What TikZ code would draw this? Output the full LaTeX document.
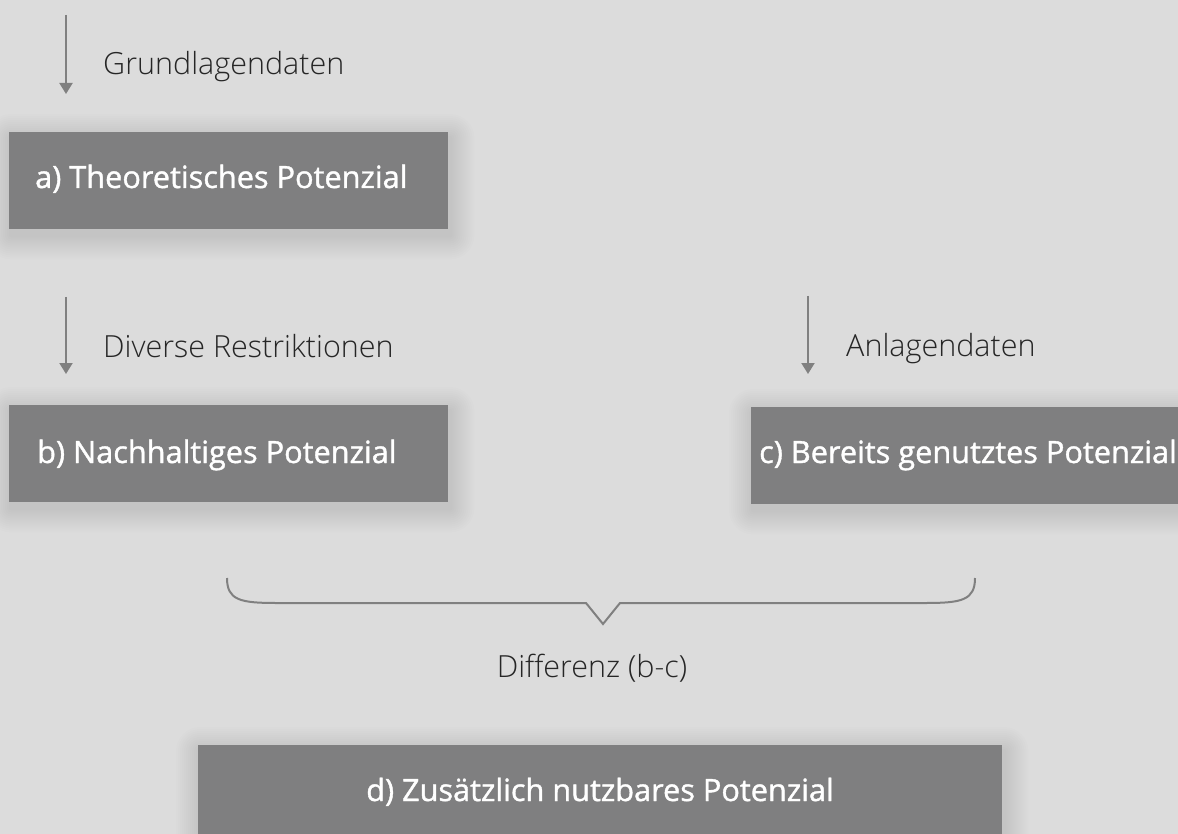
\documentclass[tikz,border=0pt]{standalone}
\usepackage{fontspec}
\setmainfont{Open Sans}
\newfontfamily\duenn{Open Sans Light}
\newfontfamily\halbfett{Open Sans}[FakeBold=1.2]
\usetikzlibrary{arrows.meta,backgrounds}
\definecolor{hintergrund}{HTML}{DCDCDC}
\definecolor{kastengrau}{HTML}{7F7F80}
\definecolor{liniengrau}{HTML}{808080}
\definecolor{schrift}{HTML}{262626}

\begin{document}
\begin{tikzpicture}[x=1pt,y=-1pt,>={Triangle[width=13pt,length=11pt]},
  kasten/.style={fill=kastengrau,minimum width=439pt,minimum height=97pt,inner sep=0pt,anchor=north west},
  ktext/.style={text=white,font=\halbfett\fontsize{30.7}{36}\selectfont,inner sep=0pt},
  pfeil/.style={->,draw=liniengrau,line width=2pt},
  beschr/.style={text=schrift,font=\duenn\fontsize{30.5}{37}\selectfont,inner sep=0pt}]
\useasboundingbox (0,0) rectangle (1178,834);

% Pfeile mit Beschriftung
\coordinate (p1) at (66,15);  \coordinate (q1) at (66,94);
\coordinate (p2) at (66,297); \coordinate (q2) at (66,374);
\coordinate (p3) at (808,296);\coordinate (q3) at (808,374);
\draw[pfeil] (p1)--(q1);
\draw[pfeil] (p2)--(q2);
\draw[pfeil] (p3)--(q3);
\node[beschr,anchor=base west] (grund) at (103,75) {Grundlagendaten};
\node[beschr,anchor=base west] (restr) at (103,357) {Diverse Restriktionen};
\node[beschr,anchor=base west] (anlag) at (846,356) {Anlagendaten};

% Kaesten
\node[kasten] (a) at (9,132) {};
\node[kasten] (b) at (9,405) {};
\node[kasten] (c) at (751,407) {};
\node[kasten,minimum width=804pt,minimum height=110pt] (d) at (198,745) {};
\node[ktext,anchor=base west] (ta) at (35,188) {a) Theoretisches Potenzial};
\node[ktext,anchor=base west] (tb) at (37,463) {b) Nachhaltiges Potenzial};
\node[ktext,anchor=base west] (tc) at (759,463) {c) Bereits genutztes Potenzial};
\node[ktext,anchor=base] (td) at (600,801) {d) Zusätzlich nutzbares Potenzial};

% Klammer
\draw[liniengrau,line width=2pt] (227,578) .. controls (227,600) and (240,603) .. (276,603)
  -- (586,603) -- (603,624) -- (620,603) -- (926,603) .. controls (962,603) and (975,600) .. (975,578);
\node[beschr,anchor=base] (diff) at (592,677) {Differenz (b-c)};

% weicher Schatten
\begin{scope}[on background layer]
\fill[hintergrund] (0,0) rectangle (1178,834);
\foreach \k in {a,b,c,d}
  \foreach \r in {2,4,...,24}
    \fill[black,opacity=.008,rounded corners=\r pt] ([shift={(-\r+2,-\r+6)}]\k.north west) rectangle ([shift={(\r+2,\r+6)}]\k.south east);
\end{scope}

\end{tikzpicture}
\end{document}
